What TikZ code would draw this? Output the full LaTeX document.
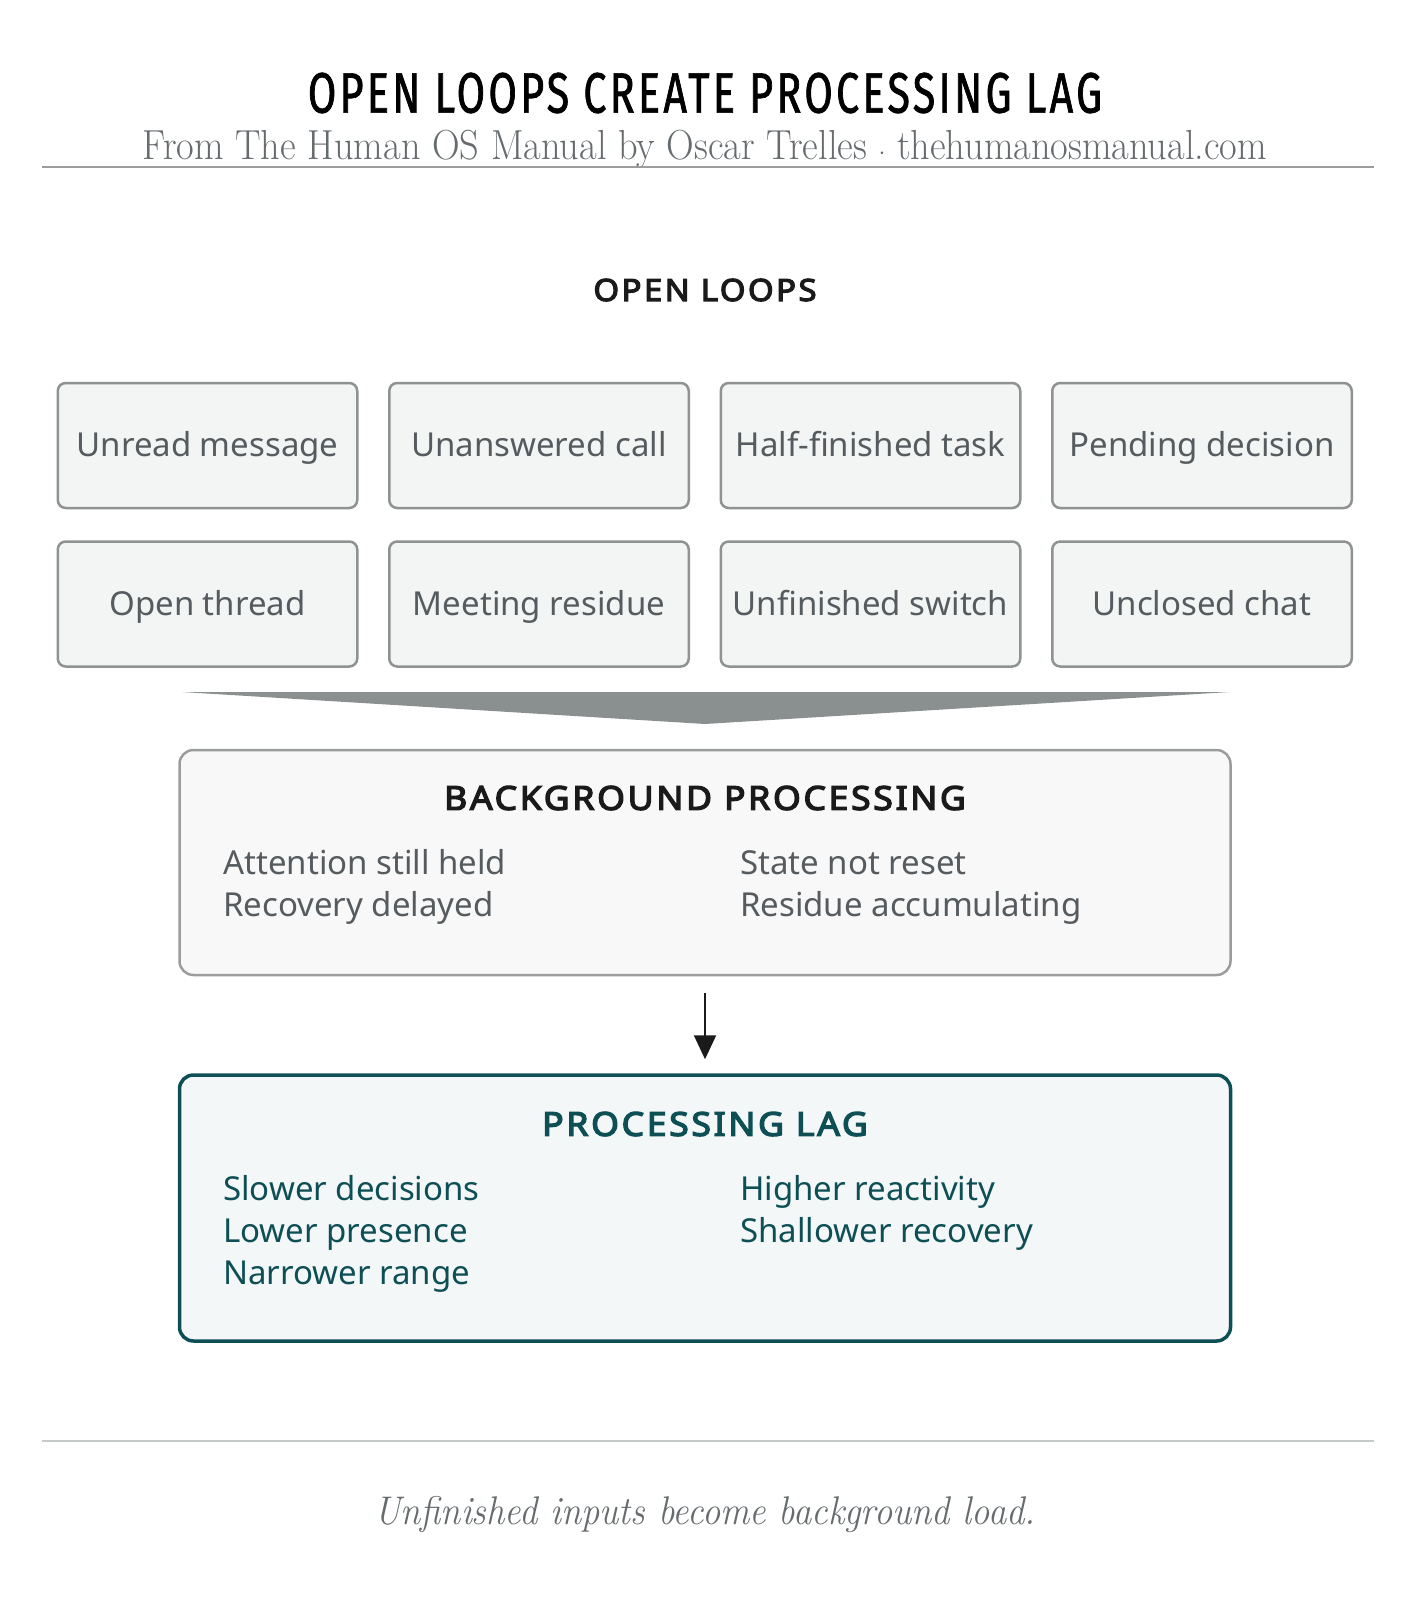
\documentclass[tikz,border=0pt]{standalone}
\usepackage{fontspec}
\setmainfont{Noto Sans}
\newfontfamily\titlefont[FakeStretch=0.72,LetterSpace=6,FakeBold=1.2]{Fira Sans}
\newfontfamily\headfont[FakeBold=4,FakeStretch=1.08,LetterSpace=8]{Noto Sans}
\newfontfamily\serifont[FakeStretch=0.913]{Latin Modern Roman}

\usetikzlibrary{positioning,arrows.meta}

\definecolor{boxline}{HTML}{8E9293}
\definecolor{boxfill}{HTML}{F3F4F4}
\definecolor{boxtext}{HTML}{555B5E}
\definecolor{headtext}{HTML}{1A1A1A}
\definecolor{subtext}{HTML}{666B6E}
\definecolor{funnel}{HTML}{8A8F90}
\definecolor{bgline}{HTML}{9A9C9D}
\definecolor{bgfill}{HTML}{F8F8F8}
\definecolor{teal}{HTML}{0E4F55}
\definecolor{tealfill}{HTML}{F3F7F8}

\tikzset{
  openloop/.style={draw=boxline, line width=2.5pt, fill=boxfill, rounded corners=8pt,
    minimum width=299.5pt, minimum height=125pt, inner sep=0pt,
    text height=26pt, text depth=4pt,
    text=boxtext, font=\fontsize{33}{40}\selectfont},
  panel/.style={rounded corners=14pt, minimum width=1051pt, inner sep=0pt},
  head/.style={font=\headfont\fontsize{33}{38}\selectfont, text=headtext},
  item/.style={anchor=west, inner sep=0pt, text height=23pt, text depth=7pt,
    text=boxtext, font=\fontsize{33}{40}\selectfont},
  rule/.style={line width=1.5pt}
}

\begin{document}
\begin{tikzpicture}[x=1pt, y=-1pt]
  \useasboundingbox (0,0) rectangle (1410,1605);

  % heading
  \node (title) at (705,93) {\titlefont\fontsize{57}{64}\selectfont OPEN LOOPS CREATE PROCESSING LAG};
  \node (sub) [text=subtext] at (705,149) {\serifont\fontsize{42}{48}\selectfont From The Human OS Manual by Oscar Trelles $\cdot$ thehumanosmanual.com};
  \coordinate (rl1) at (42,167);
  \coordinate (rr1) at (1374,167);
  \draw[rule, draw=bgline] (rl1) -- (rr1);

  \node (open) [head, font=\headfont\fontsize{30.5}{36}\selectfont] at (705,290) {OPEN LOOPS};

  % the eight loops
  \node (unread) [openloop] at (207.5,445.5) {Unread message};
  \node (call) [openloop, right=29.5pt of unread] {Unanswered call};
  \node (task) [openloop, right=29.5pt of call] {Half-finished task};
  \node (pend) [openloop, right=29.5pt of task] {Pending decision};
  \node (thread) [openloop, below=31pt of unread] {Open thread};
  \node (meet) [openloop, right=29.5pt of thread] {Meeting residue};
  \node (switch) [openloop, right=29.5pt of meet] {Unfinished switch};
  \node (chat) [openloop, right=29.5pt of switch] {Unclosed chat};

  % funnel
  \coordinate (fl) at (182,692);
  \coordinate (fr) at (1230,692);
  \coordinate (fa) at (705,724);
  \fill[funnel] (fl) -- (fr) -- (fa) -- cycle;

  % background processing
  \node (bg) [panel, draw=bgline, line width=2.5pt, fill=bgfill, minimum height=225pt] at (705,862.5) {};
  \node (bghead) [head] at (705,798) {BACKGROUND PROCESSING};
  \node (att) [item] at (223,866) {Attention still held};
  \node (rec) [item] at (223,908) {Recovery delayed};
  \node (state) [item] at (740,866) {State not reset};
  \node (res) [item] at (740,908) {Residue accumulating};

  % processing lag
  \node (lag) [panel, draw=teal, line width=3.5pt, fill=tealfill, minimum height=266pt] at (705,1208) {};
  \node (laghead) [head, text=teal] at (705,1124) {PROCESSING LAG};
  \node (slow) [item, text=teal] at (223,1192) {Slower decisions};
  \node (pres) [item, text=teal] at (223,1234) {Lower presence};
  \node (range) [item, text=teal] at (223,1276) {Narrower range};
  \node (react) [item, text=teal] at (740,1192) {Higher reactivity};
  \node (shal) [item, text=teal] at (740,1234) {Shallower recovery};

  \draw[line width=2pt, headtext, -{Triangle[length=24pt, width=22pt]},
    shorten <=17pt, shorten >=14pt] (bg) -- (lag);

  % footer
  \coordinate (rl2) at (42,1441);
  \coordinate (rr2) at (1374,1441);
  \draw[line width=2pt, draw=boxline!50] (rl2) -- (rr2);
  \node (foot) [text=subtext] at (705,1514) {\serifont\itshape\fontsize{40}{46}\selectfont Unfinished inputs become background load.};
\end{tikzpicture}
\end{document}
